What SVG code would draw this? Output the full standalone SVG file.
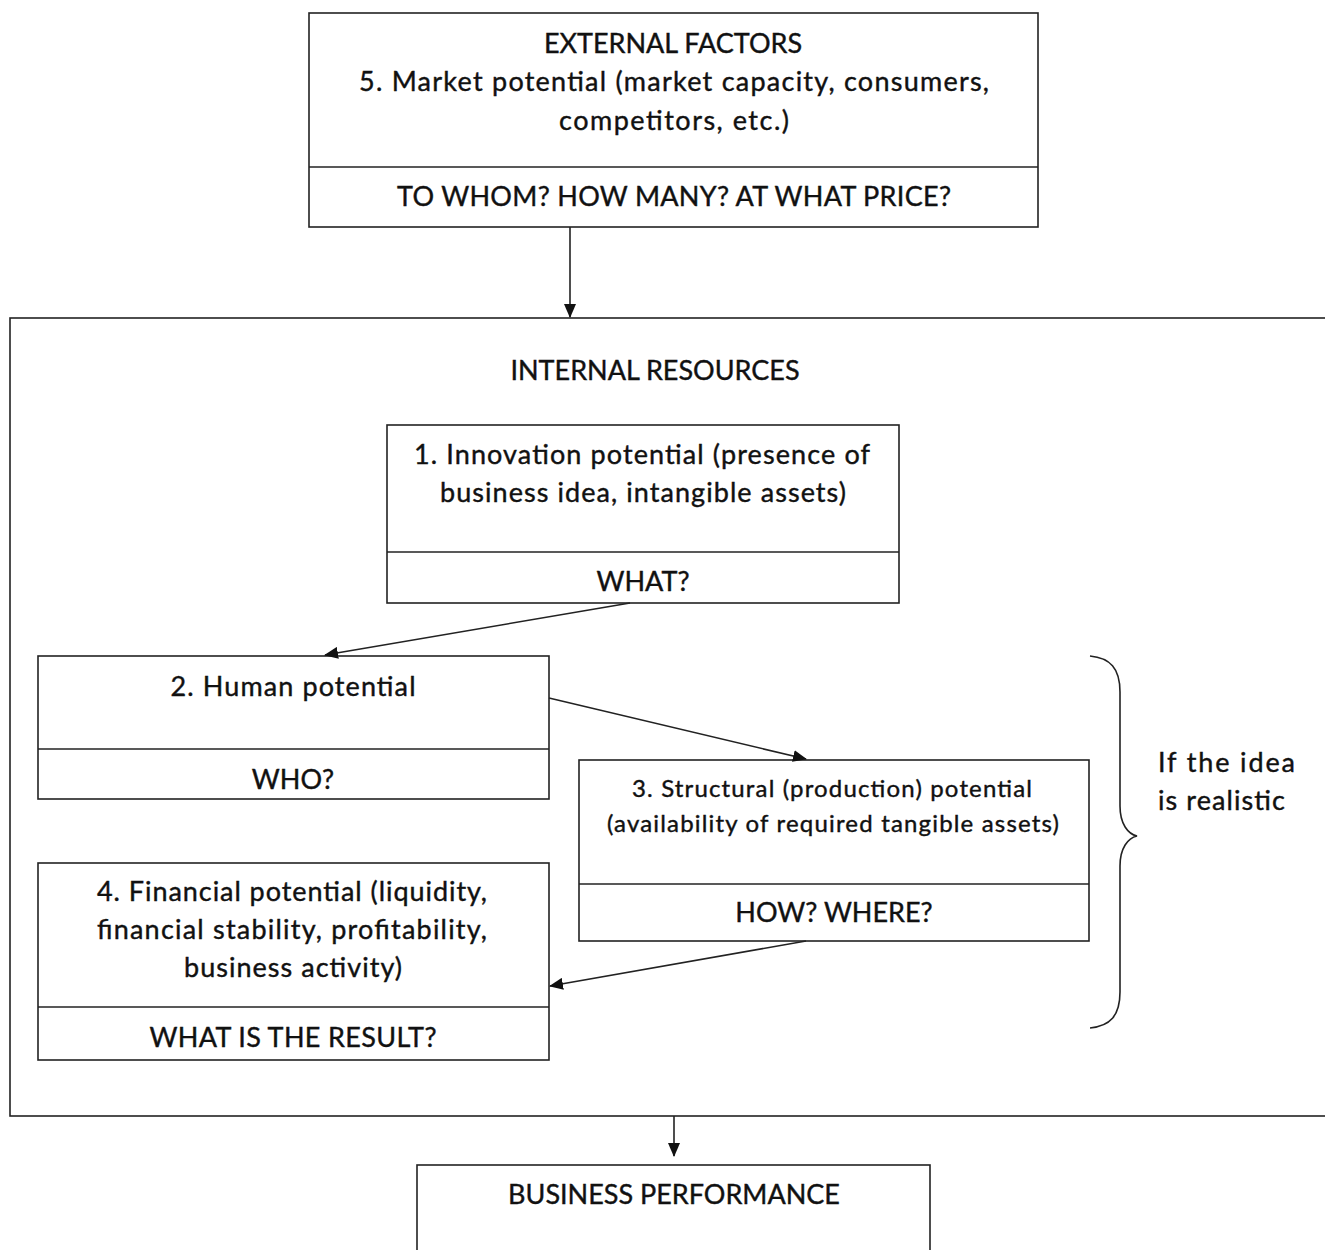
<svg xmlns="http://www.w3.org/2000/svg" width="1325" height="1250" viewBox="0 0 1325 1250">
<defs>
<style>
.box{fill:#fff;stroke:#222;stroke-width:1.6}
.ln{stroke:#222;stroke-width:1.6;fill:none}
.t{font-family:Lato,"Liberation Sans",sans-serif;font-size:27px;fill:#111;stroke:#111;stroke-width:0.4;text-anchor:middle}
.s{font-size:24px}
.l{text-anchor:start}
</style>
<marker id="ah" markerWidth="14" markerHeight="12" refX="13" refY="6" orient="auto" markerUnits="userSpaceOnUse" viewBox="0 0 14 12">
<path d="M0,0 L14,6 L0,12 z" fill="#111"/>
</marker>
</defs>
<rect width="1325" height="1250" fill="#fff"/>
<g id="internal">
<rect class="box" x="10" y="318" width="1330" height="798"/>
<text class="t" x="655" y="380">INTERNAL RESOURCES</text>
</g>
<g id="external">
<rect class="box" x="309" y="13" width="729" height="214"/>
<line class="ln" x1="309" y1="167" x2="1038" y2="167"/>
<text class="t" x="673" y="53">EXTERNAL FACTORS</text>
<text class="t" x="674" y="91" textLength="630" lengthAdjust="spacing">5. Market potential (market capacity, consumers,</text>
<text class="t" x="674" y="130" textLength="230" lengthAdjust="spacing">competitors, etc.)</text>
<text class="t" x="674" y="206" textLength="554" lengthAdjust="spacing">TO WHOM? HOW MANY? AT WHAT PRICE?</text>
</g>
<g id="n1">
<rect class="box" x="387" y="425" width="512" height="178"/>
<line class="ln" x1="387" y1="552" x2="899" y2="552"/>
<text class="t" x="642" y="464" textLength="456" lengthAdjust="spacing">1. Innovation potential (presence of</text>
<text class="t" x="643" y="502" textLength="406" lengthAdjust="spacing">business idea, intangible assets)</text>
<text class="t" x="643" y="591">WHAT?</text>
</g>
<g id="n2">
<rect class="box" x="38" y="656" width="511" height="143"/>
<line class="ln" x1="38" y1="749" x2="549" y2="749"/>
<text class="t" x="293" y="696" textLength="245" lengthAdjust="spacing">2. Human potential</text>
<text class="t" x="293" y="789">WHO?</text>
</g>
<g id="n3">
<rect class="box" x="579" y="760" width="510" height="181"/>
<line class="ln" x1="579" y1="884" x2="1089" y2="884"/>
<text class="t s" x="832" y="797" textLength="400" lengthAdjust="spacing">3. Structural (production)  potential</text>
<text class="t s" x="833" y="832" textLength="452" lengthAdjust="spacing">(availability of required tangible assets)</text>
<text class="t" x="834" y="922">HOW? WHERE?</text>
</g>
<g id="n4">
<rect class="box" x="38" y="863" width="511" height="197"/>
<line class="ln" x1="38" y1="1007" x2="549" y2="1007"/>
<text class="t" x="292" y="901" textLength="390" lengthAdjust="spacing">4. Financial potential (liquidity,</text>
<text class="t" x="292" y="939" textLength="390" lengthAdjust="spacing">financial stability, profitability,</text>
<text class="t" x="293" y="977" textLength="218" lengthAdjust="spacing">business activity)</text>
<text class="t" x="293" y="1047" textLength="287" lengthAdjust="spacing">WHAT IS THE RESULT?</text>
</g>
<g id="performance">
<rect class="box" x="417" y="1165" width="513" height="100"/>
<text class="t" x="674" y="1204">BUSINESS PERFORMANCE</text>
</g>
<g id="note">
<path class="ln" d="M1090,656 C1110,658 1120,668 1120,692 L1120,806 C1120,824 1128,834 1137,836 C1128,838 1120,848 1120,866 L1120,992 C1120,1016 1110,1026 1090,1028" stroke="#444"/>
<text class="t l" x="1158" y="772" textLength="137" lengthAdjust="spacing">If the idea</text>
<text class="t l" x="1158" y="810" textLength="127" lengthAdjust="spacing">is realistic</text>
</g>
<g id="connectors">
<line class="ln" x1="570" y1="227" x2="570" y2="317" marker-end="url(#ah)"/>
<line class="ln" x1="630" y1="603" x2="325" y2="655" marker-end="url(#ah)"/>
<line class="ln" x1="549" y1="698" x2="806" y2="759" marker-end="url(#ah)"/>
<line class="ln" x1="806" y1="941" x2="550" y2="986" marker-end="url(#ah)"/>
<line class="ln" x1="674" y1="1116" x2="674" y2="1156" marker-end="url(#ah)"/>
</g>
</svg>
